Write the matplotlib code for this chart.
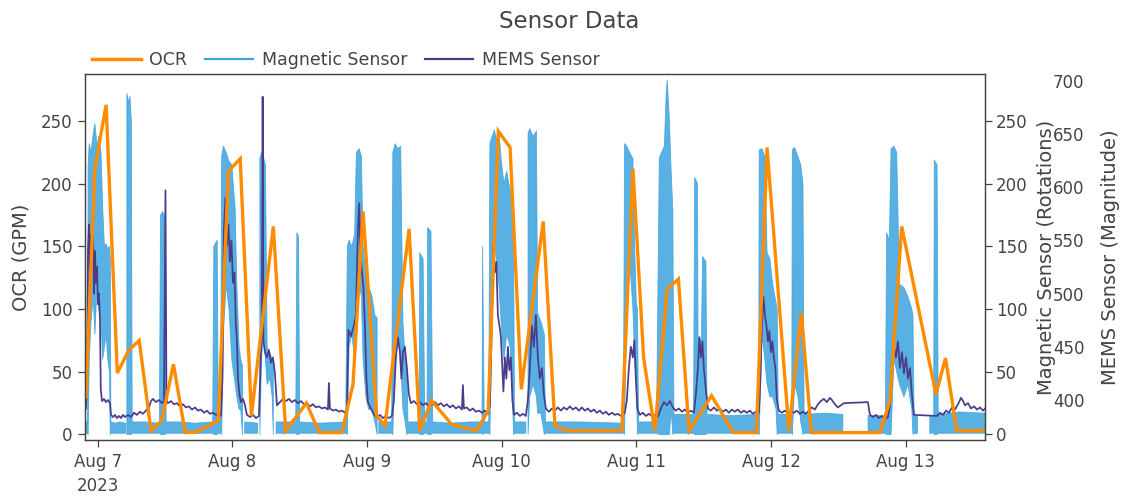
import numpy as np
import pandas as pd
import matplotlib
matplotlib.use("Agg")
import matplotlib.pyplot as plt
from matplotlib.lines import Line2D

start = pd.Timestamp("2023-08-07 00:00")

# OCR flow readings: hours after midnight Aug 7, value in GPM
ocr_hours = [
    -2.1, -0.5, 1.5, 3.5, 5.5, 7.4, 9.5, 11.4, 13.5, 15.6,
    17.6, 21.5, 23.3, 25.4, 27.4, 31.3, 33.5, 37.2, 39.5, 43.5,
    45.5, 47.3, 49.7, 51.2, 55.5, 57.4, 59.5, 63.1, 67.5, 69.6,
    71.4, 73.5, 75.5, 79.4, 81.5, 83.6, 93.4, 95.4, 97.3, 99.3,
    101.5, 103.5, 105.4, 109.4, 113.3, 117.4, 119.3, 123.2, 125.4, 127.2,
    139.4, 141.2, 143.3, 149.4, 151.1, 153.1, 157.8,
]
ocr_gpm = [
    30, 212, 263, 49, 67, 75, 3, 11, 56, 1.5,
    2, 11, 210, 220, 15, 166, 3, 25, 1.5, 1.5,
    40, 178, 15, 7, 164, 3, 27, 8, 3, 19,
    242, 229, 36, 170, 7, 3, 3, 212, 61, 3,
    116, 124, 3, 31, 1.5, 1.5, 229, 3, 97, 1.5,
    1.5, 27, 166, 32, 61, 3, 3,
]

# magnetic sensor rotations, kept as low/high envelope of the raw counts
# (nan marks stretches with no samples)
nan = np.nan
mag_hours = [
    -2.1, -1.8, -1.7, -1.5, -1.2, -0.8, -0.5, -0.1, 0.2, 0.6,
    0.9, 1.2, 1.5, 1.8, 2.1, 2.25, 2.35, 3.1, 4.0, 5.0,
    5.1, 5.2, 5.5, 5.75, 6.0, 6.15, 8.4, 11.0, 11.2, 11.6,
    12.0, 12.2, 14.7, 17.3, 20.5, 20.7, 21.3, 21.5, 21.9, 22.1,
    22.4, 22.9, 23.4, 23.9, 24.5, 24.8, 25.2, 25.5, 25.8, 26.0,
    26.2, 28.5, 28.7, 28.9, 29.2, 29.5, 29.9, 30.2, 30.7, 31.1,
    31.3, 31.5, 31.8, 35.3, 35.5, 35.8, 36.0, 39.6, 44.2, 44.5,
    44.8, 45.3, 45.8, 46.1, 46.6, 47.0, 47.3, 47.8, 48.3, 48.9,
    49.4, 49.8, 49.9, 50.1, 52.4, 52.6, 53.0, 53.5, 54.0, 54.4,
    54.8, 55.1, 55.3, 57.3, 57.4, 58.0, 58.3, 58.7, 58.8, 59.4,
    59.7, 62.8, 66.3, 68.5, 68.6, 68.9, 69.7, 69.9, 70.3, 70.7,
    71.1, 71.5, 71.9, 72.4, 72.9, 73.5, 73.9, 74.1, 74.3, 76.3,
    76.5, 76.7, 77.0, 77.6, 78.2, 78.4, 79.0, 79.6, 79.8, 85.9,
    93.7, 93.9, 94.3, 94.8, 95.4, 95.7, 96.0, 96.2, 96.4, 99.6,
    100.1, 100.5, 101.0, 101.3, 101.5, 101.9, 102.2, 102.5, 102.7, 106.2,
    106.4, 106.9, 107.0, 107.6, 107.8, 108.4, 108.6, 112.7, 117.8, 117.9,
    118.4, 118.9, 119.3, 119.8, 120.3, 120.9, 121.1, 121.3, 123.7, 123.8,
    124.2, 124.8, 125.3, 125.7, 125.9, 129.6, 132.8, 133.0, 137.3, 140.4,
    140.6, 141.1, 141.4, 141.9, 142.4, 142.9, 143.7, 144.4, 145.1, 145.3,
    145.5, 146.1, 146.3, 148.3, 149.0, 149.1, 149.6, 149.8, 153.6, 157.9,
    158.2,
]
mag_low = [
    1, 1, 0, 60, 90, 110, 80, 120, 100, 90,
    60, 70, 80, 60, 50, 0, 1, 1, 1, 1,
    nan, 0, 0, 0, 0, 1, 1, 1, 0, 0,
    0, 1, 1, 1, 1, 0, 0, 1, 1, 0,
    80, 120, 100, 60, 40, 30, 20, 20, 0, nan,
    1, 1, nan, 0, 60, 80, 60, 40, 45, 30,
    0, nan, 1, 1, 0, 0, 1, 1, 1, 0,
    70, 80, 60, 80, 120, 110, 60, 30, 20, 20,
    10, 0, nan, 1, 1, 0, 60, 80, 60, 20,
    10, 0, 1, 1, 0, 0, 1, 1, 0, 0,
    1, 1, 1, 1, 0, 1, 1, 0, 100, 150,
    140, 120, 90, 60, 80, 70, 40, 0, 1, 1,
    nan, 0, 30, 40, 30, 17, 17, 0, 1, 1,
    1, 0, 120, 140, 100, 60, 40, 0, 1, 1,
    0, 0, 0, 0, 0, 0, 20, 0, 1, 1,
    0, 0, 0, 0, 0, 0, 1, 1, 1, 0,
    80, 60, 40, 30, 30, 20, 0, 1, 1, 0,
    40, 30, 10, 0, 1, 1, 1, nan, 1, 1,
    0, 0, 0, 60, 50, 40, 30, 40, 20, 0,
    1, 1, nan, 1, 1, 0, 0, 1, 1, 1,
    1,
]
mag_high = [
    10, 10, 215, 232, 225, 240, 248, 230, 238, 225,
    180, 150, 152, 148, 150, 140, 10, 9, 10, 9,
    nan, 272, 265, 270, 250, 10, 10, 9, 175, 178,
    172, 10, 10, 9, 10, 150, 155, 10, 10, 222,
    230, 225, 218, 215, 180, 120, 70, 60, 55, nan,
    10, 9, nan, 220, 225, 222, 215, 70, 65, 60,
    55, nan, 10, 10, 161, 158, 10, 9, 10, 150,
    155, 150, 160, 225, 228, 222, 150, 125, 118, 110,
    95, 93, nan, 10, 10, 225, 232, 228, 230, 90,
    60, 55, 10, 10, 145, 140, 10, 10, 165, 162,
    10, 9, 10, 10, 150, 10, 10, 232, 238, 243,
    235, 242, 220, 200, 210, 195, 180, 170, 10, 10,
    nan, 240, 244, 238, 242, 97, 90, 80, 10, 10,
    9, 232, 230, 225, 220, 150, 105, 100, 10, 10,
    221, 225, 230, 270, 283, 250, 210, 180, 16, 16,
    205, 200, 78, 75, 142, 138, 16, 15, 16, 227,
    228, 222, 145, 140, 120, 105, 100, 16, 16, 227,
    229, 222, 215, 200, 16, 17, 16, nan, 15, 15,
    161, 155, 228, 230, 225, 120, 117, 110, 100, 95,
    15, 15, nan, 14, 15, 219, 215, 16, 18, 17,
    17,
]

# MEMS vibration magnitude
mems_hours = [
    -2.08, -1.91, -1.73, -1.55, -1.37, -1.19, -1.02, -0.84, -0.66, -0.48,
    -0.30, -0.12, 0.05, 0.23, 0.41, 0.55, 0.77, 1.12, 1.48, 1.84,
    2.19, 2.37, 2.73, 3.08, 3.44, 3.80, 4.15, 4.51, 4.86, 5.40,
    5.93, 6.47, 7.00, 7.54, 8.07, 8.61, 9.14, 9.50, 9.85, 10.39,
    10.92, 11.46, 11.81, 12.08, 12.26, 12.53, 13.06, 13.59, 14.13, 14.66,
    15.20, 15.73, 16.27, 16.80, 17.34, 17.87, 18.41, 18.94, 19.48, 20.01,
    20.54, 21.08, 21.62, 21.97, 22.24, 22.50, 22.77, 23.04, 23.31, 23.57,
    23.84, 24.11, 24.37, 24.64, 24.82, 25.00, 25.27, 25.53, 25.89, 26.25,
    26.60, 27.14, 27.67, 28.21, 28.74, 29.01, 29.27, 29.40, 29.54, 29.81,
    30.16, 30.52, 30.88, 31.23, 31.59, 31.95, 32.48, 33.02, 33.55, 34.09,
    34.62, 35.16, 35.69, 36.23, 36.76, 37.30, 37.83, 38.36, 38.90, 39.43,
    39.97, 40.50, 41.04, 41.21, 41.39, 41.93, 42.46, 43.00, 43.53, 44.07,
    44.42, 44.69, 45.13, 45.67, 46.02, 46.38, 46.61, 46.82, 47.09, 47.36,
    47.63, 47.89, 48.16, 48.70, 49.23, 49.76, 50.30, 50.83, 51.37, 51.90,
    52.44, 52.79, 53.15, 53.50, 53.86, 54.13, 54.40, 54.75, 55.11, 55.47,
    55.82, 56.36, 56.89, 57.43, 57.96, 58.50, 59.03, 59.57, 60.10, 60.64,
    61.17, 61.71, 62.24, 62.77, 63.31, 63.84, 64.38, 64.91, 65.09, 65.27,
    65.80, 66.33, 66.87, 67.40, 67.94, 68.47, 69.01, 69.54, 69.90, 70.25,
    70.52, 70.79, 71.06, 71.32, 71.59, 71.86, 72.13, 72.31, 72.57, 72.84,
    73.11, 73.37, 73.64, 73.91, 74.18, 74.71, 75.25, 75.78, 76.31, 76.67,
    77.03, 77.38, 77.74, 78.10, 78.45, 78.81, 79.17, 79.52, 79.88, 80.41,
    80.95, 81.48, 82.01, 82.55, 83.08, 83.62, 84.15, 84.69, 85.22, 85.76,
    86.29, 86.83, 87.36, 87.89, 88.43, 88.96, 89.50, 90.03, 90.57, 91.10,
    91.64, 92.17, 92.71, 93.24, 93.60, 93.95, 94.31, 94.67, 95.02, 95.38,
    95.65, 95.91, 96.18, 96.63, 97.16, 97.70, 98.23, 98.77, 99.30, 99.84,
    100.37, 100.91, 101.44, 101.98, 102.51, 103.05, 103.58, 104.12, 104.65, 105.19,
    105.72, 106.25, 106.61, 106.97, 107.23, 107.50, 107.77, 108.03, 108.39, 108.75,
    109.28, 109.82, 110.35, 110.89, 111.42, 111.96, 112.49, 113.03, 113.56, 114.10,
    114.63, 115.17, 115.70, 116.24, 116.77, 117.31, 117.84, 118.11, 118.38, 118.64,
    118.91, 119.18, 119.45, 119.71, 119.98, 120.25, 120.51, 120.78, 121.05, 121.41,
    121.94, 122.48, 123.01, 123.55, 124.08, 124.61, 125.15, 125.68, 126.22, 126.75,
    127.29, 127.82, 128.36, 128.89, 129.43, 129.96, 130.50, 130.85, 131.39, 131.92,
    132.46, 132.99, 137.27, 137.63, 138.17, 138.70, 139.24, 139.77, 140.31, 140.84,
    141.20, 141.55, 141.91, 142.27, 142.62, 142.98, 143.34, 143.69, 144.05, 144.41,
    144.76, 145.12, 145.48, 149.58, 150.12, 150.65, 151.19, 151.72, 152.26, 152.79,
    153.33, 153.86, 154.22, 154.58, 155.11, 155.65, 156.18, 156.72, 157.25, 157.79,
    158.14,
]
mems_values = [
    392, 420, 540, 565, 520, 555, 530, 560, 500, 540,
    510, 525, 490, 500, 475, 410, 399, 401, 398, 400,
    397, 386, 384, 386, 383, 385, 383, 386, 384, 386,
    384, 388, 386, 389, 387, 390, 393, 399, 401, 398,
    400, 397, 399, 597, 400, 397, 399, 396, 397, 394,
    396, 393, 394, 391, 393, 390, 391, 388, 390, 387,
    388, 386, 387, 385, 420, 560, 590, 545, 565, 530,
    550, 510, 520, 470, 455, 420, 405, 398, 401, 395,
    386, 384, 386, 383, 385, 430, 470, 685, 455, 445,
    440, 447, 435, 440, 425, 395, 398, 401, 399, 401,
    398, 400, 397, 399, 396, 397, 394, 396, 393, 394,
    392, 393, 391, 416, 392, 390, 391, 389, 390, 388,
    392, 466, 460, 470, 480, 560, 585, 540, 520, 506,
    470, 420, 398, 392, 386, 384, 386, 383, 385, 383,
    385, 400, 440, 459, 445, 420, 445, 450, 430, 405,
    397, 399, 396, 398, 395, 397, 394, 396, 398, 395,
    397, 394, 396, 393, 395, 392, 394, 391, 414, 392,
    393, 390, 392, 389, 390, 388, 390, 387, 395, 470,
    545, 520, 530, 480, 470, 460, 430, 408, 440, 420,
    450, 428, 440, 400, 386, 388, 385, 387, 385, 400,
    430, 470, 450, 480, 440, 420, 430, 405, 392, 389,
    392, 390, 393, 390, 393, 391, 394, 391, 393, 390,
    393, 390, 392, 389, 391, 388, 390, 387, 389, 386,
    388, 386, 387, 385, 386, 388, 400, 430, 450, 440,
    456, 420, 392, 386, 388, 385, 387, 385, 386, 384,
    392, 398, 395, 399, 393, 390, 392, 389, 391, 388,
    390, 388, 405, 430, 459, 440, 455, 430, 410, 392,
    390, 393, 390, 392, 389, 391, 388, 391, 389, 391,
    388, 390, 388, 390, 387, 389, 388, 420, 470, 497,
    480, 470, 455, 465, 445, 455, 440, 430, 400, 390,
    388, 390, 387, 389, 388, 390, 387, 389, 387, 390,
    393, 391, 396, 399, 401, 398, 402, 400, 396, 393,
    395, 397, 398, 386, 384, 386, 383, 385, 382, 384,
    395, 420, 450, 440, 455, 430, 445, 425, 440, 420,
    430, 405, 386, 385, 388, 386, 390, 388, 393, 391,
    396, 402, 399, 395, 397, 392, 394, 391, 393, 390,
    392,
]

day_labels = ["Aug 7\n2023", "Aug 8", "Aug 9", "Aug 10", "Aug 11", "Aug 12", "Aug 13"]
ocr_ticks = [0, 50, 100, 150, 200, 250]
mag_ticks = [0, 50, 100, 150, 200, 250]
mems_ticks = [400, 450, 500, 550, 600, 650, 700]

ocr_color = "#ff8c00"
mag_color = "#3ca3dd"
mems_color = "#483d8b"
text_color = "#444444"


def to_time(hours):
    return start + pd.to_timedelta(np.asarray(hours, dtype=float), unit="h")


fig = plt.figure(figsize=(11.27, 4.98), dpi=100)
ax = fig.add_axes([85 / 1127, 58 / 498, 900 / 1127, 366 / 498])
ax_mag = ax.twinx()
ax_mems = ax.twinx()

# OCR on top, MEMS above the magnetic band
ax_mag.set_zorder(1)
ax_mems.set_zorder(2)
ax.set_zorder(3)
ax.patch.set_visible(False)

ax_mag.fill_between(to_time(mag_hours), np.array(mag_low, dtype=float),
                    np.array(mag_high, dtype=float), color=mag_color,
                    alpha=0.85, linewidth=0.6)
ax_mems.plot(to_time(mems_hours), mems_values, color=mems_color, lw=1.25)
ax.plot(to_time(ocr_hours), ocr_gpm, color=ocr_color, lw=2.4,
        solid_joinstyle="miter")

ax.set_xlim(to_time([-2.26])[0], to_time([158.14])[0])
ax.set_ylim(-4.4, 287.6)
ax_mag.set_ylim(-4.4, 287.6)
ax_mems.set_ylim(362.4, 706.3)

ax.set_xticks(pd.date_range("2023-08-07", periods=len(day_labels), freq="D"))
ax.set_xticklabels(day_labels)
for lbl in ax.get_xticklabels():
    lbl.set_linespacing(1.45)
ax.set_yticks(ocr_ticks)
ax_mag.set_yticks(mag_ticks)
ax_mems.set_yticks(mems_ticks)

ax.tick_params(axis="both", direction="out", length=5, width=0.9,
               colors=text_color, labelsize=12, pad=4)
ax_mag.tick_params(axis="y", direction="out", length=5, width=0.9,
                   colors=text_color, labelsize=12, pad=3)
ax_mems.tick_params(axis="y", length=0, colors=text_color, labelsize=12, pad=3)

for a in (ax, ax_mag):
    for sp in a.spines.values():
        sp.set_color(text_color)
        sp.set_linewidth(0.9)
for sp in ax_mems.spines.values():
    sp.set_visible(False)
ax_mems.spines["right"].set_position(("outward", 46))

ax.set_ylabel("OCR (GPM)", fontsize=14, color=text_color)
ax.yaxis.set_label_coords(-0.06, 0.5)
ax_mag.set_ylabel("Magnetic Sensor (Rotations)", fontsize=14, color=text_color)
ax_mag.yaxis.set_label_coords(1.058, 0.5)
ax_mems.set_ylabel("MEMS Sensor (Magnitude)", fontsize=14, color=text_color)
ax_mems.yaxis.set_label_coords(1.129, 0.5)

fig.text(569 / 1127, 1 - 21 / 498, "Sensor Data", ha="center", va="center",
         fontsize=16.5, color=text_color)

handles = [
    Line2D([], [], color=ocr_color, lw=2.5),
    Line2D([], [], color=mag_color, lw=1.6),
    Line2D([], [], color=mems_color, lw=1.6),
]
ax.legend(handles, ["OCR", "Magnetic Sensor", "MEMS Sensor"],
          loc="center left", bbox_to_anchor=(0.0078, 1.038), ncol=3,
          frameon=False, fontsize=12.5, handlelength=2.8, handletextpad=0.5,
          columnspacing=1.0, borderpad=0, borderaxespad=0,
          labelcolor=text_color)

fig.savefig("out.png", dpi=100)
